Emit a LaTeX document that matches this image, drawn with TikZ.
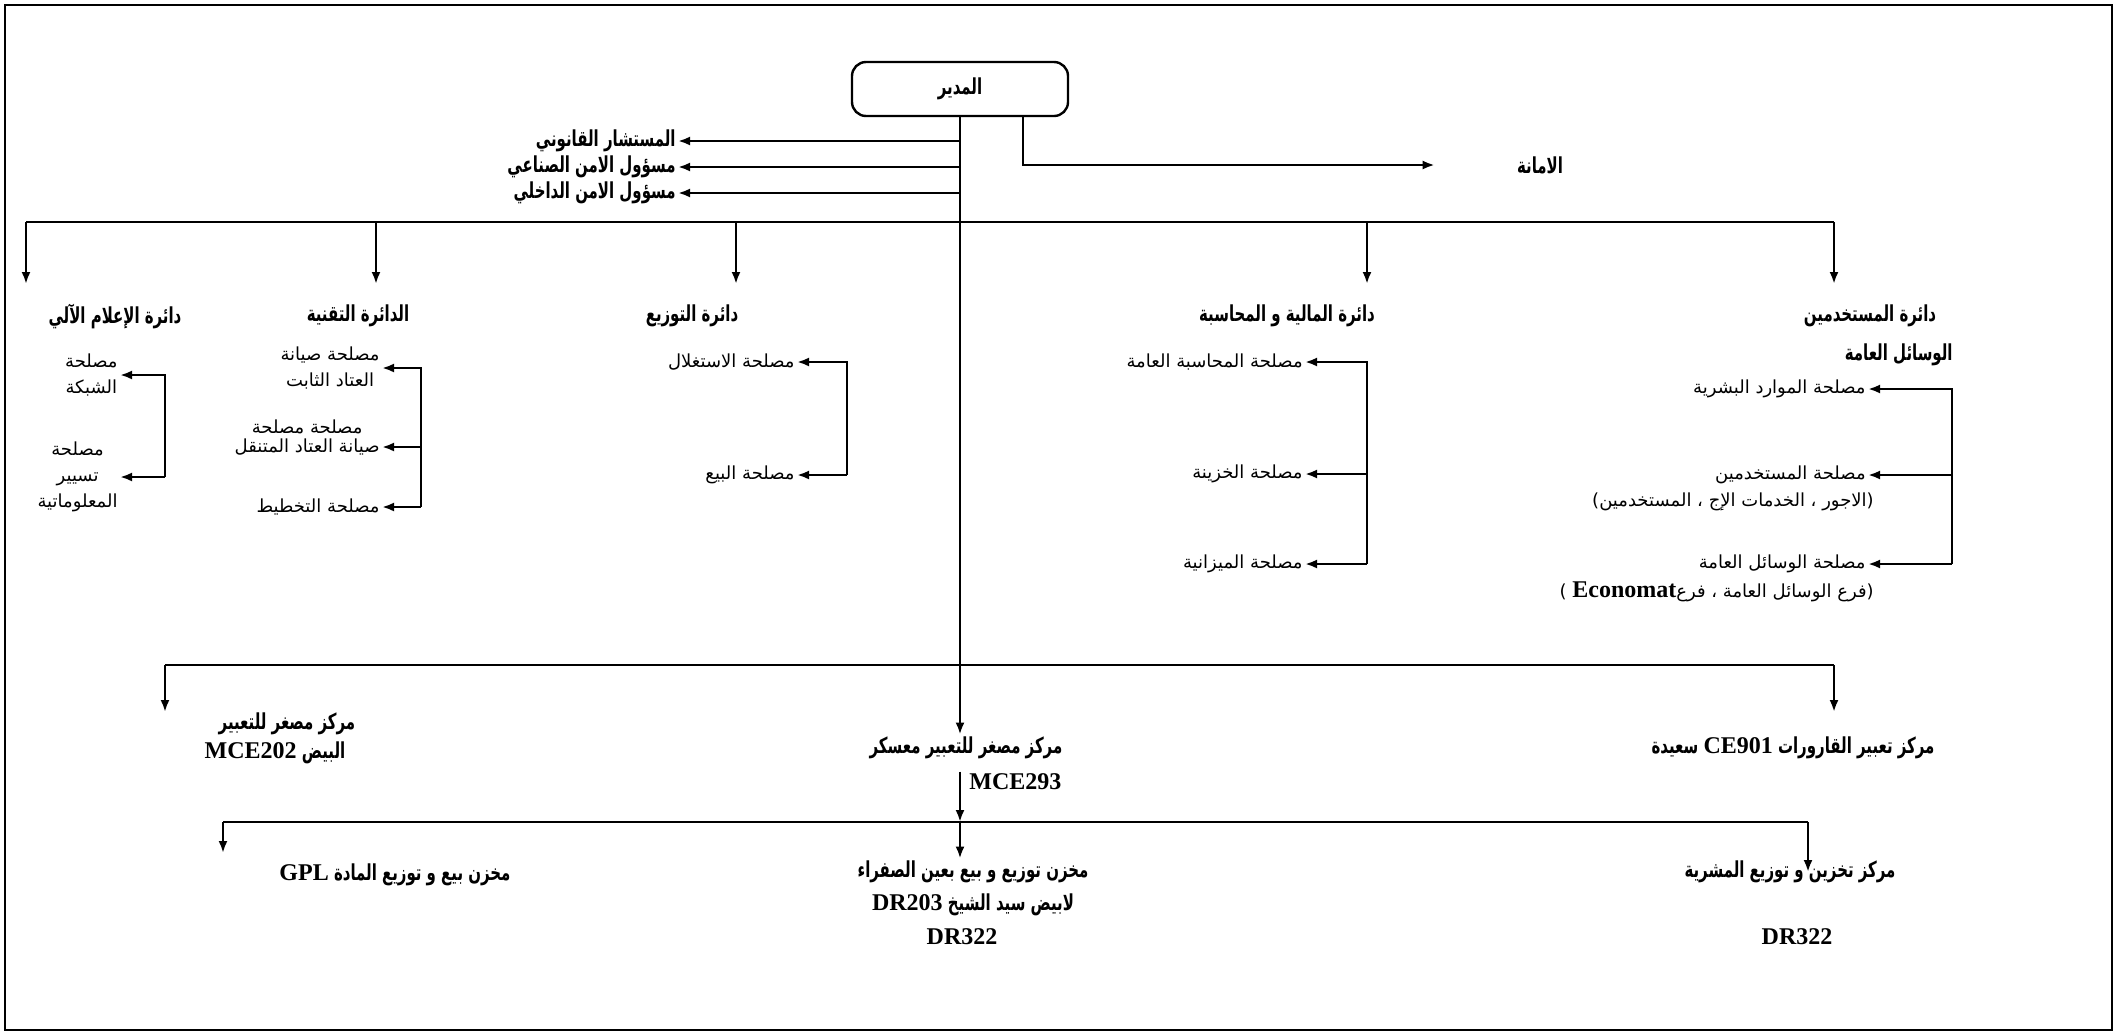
\documentclass[tikz,border=0pt]{standalone}
\usepackage{fontspec}
\usetikzlibrary{positioning,arrows.meta}
\newfontfamily\arabicfont[Script=Arabic, BoldFeatures={FakeStretch=0.68}]{DejaVu Sans}
\newfontfamily\latinfont{Liberation Serif}
\TeXXeTstate=1
\newcommand{\rl}[1]{\beginR#1\endR}
\newcommand{\latn}[1]{\beginL{\latinfont\bfseries\fontsize{12}{14}\selectfont #1}\endL{}}

\tikzset{
	main/.style={black, line width=1.2pt},
	arrow/.style={main, -{Latex[length=6pt,width=4.5pt]}},
	head/.style={font=\arabicfont\bfseries\fontsize{11}{14}\selectfont, inner sep=1pt, align=center},
	item/.style={font=\arabicfont\fontsize{9}{13}\selectfont, inner sep=1pt, align=center}
}

\begin{document}
\begin{tikzpicture}[x=0.5pt,y=-0.5pt]
\useasboundingbox (0,0) rectangle (2118,1034);
\draw [line width=0.8pt] (5,5) rectangle (2112,1030);

\node (boss) at (960,89) [draw, main, rounded corners=7pt, minimum width=108pt, minimum height=27pt, head] {\rl{المدير}};

\node (legal) at (678,141) [anchor=east, head] {\rl{المستشار القانوني}};
\node (indsec) at (678,167) [anchor=east, head] {\rl{مسؤول الامن الصناعي}};
\node (intsec) at (678,193) [anchor=east, head] {\rl{مسؤول الامن الداخلي}};
\node (amana) at (1540,165) [head] {\rl{الامانة}};

\draw [arrow] (boss.south |- legal.east) -- (legal.east);
\draw [arrow] (boss.south |- indsec.east) -- (indsec.east);
\draw [arrow] (boss.south |- intsec.east) -- (intsec.east);
\draw [arrow, shorten >=40pt] ([xshift=31.5pt]boss.south) |- (amana.west);

\coordinate (bus1) at (960,222);
\coordinate (t1) at (26,284);
\coordinate (t2) at (376,284);
\coordinate (t3) at (736,284);
\coordinate (t4) at (1367,284);
\coordinate (t5) at (1834,284);
\draw [main] (t1 |- bus1) -- (t5 |- bus1);
\foreach \t in {t1,t2,t3,t4,t5}
	\draw [arrow] (\t |- bus1) -- (\t);

\node (dinfo) at (115,316) [head] {\rl{دائرة الإعلام الآلي}};
\node (dtech) at (358,316) [head] {\rl{الدائرة التقنية}};
\node (ddist) at (692,316) [head] {\rl{دائرة التوزيع}};
\node (dfin) at (1287,316) [head] {\rl{دائرة المالية و المحاسبة}};
\node (dpers) at (1870,316) [head] {\rl{دائرة المستخدمين}};
\node (dmoy) at (1955,355) [anchor=east, head] {\rl{الوسائل العامة}};

\node (inet) at (120,375) [anchor=east, item] {\rl{مصلحة}\\\rl{الشبكة}};
\node (isys) at (120,477) [anchor=east, item] {\rl{مصلحة}\\\rl{تسيير}\\\rl{المعلوماتية}};
\coordinate (ibr) at (165,0);
\draw [arrow] (ibr |- isys.east) -- (ibr |- inet.east) -- (inet.east);
\draw [arrow] (ibr |- isys.east) -- (isys.east);

\node (tfix) at (382,368) [anchor=east, item] {\rl{مصلحة صيانة}\\\rl{العتاد الثابت}};
\node (tmob) at (382,447) [anchor=east, item] {\rl{صيانة العتاد المتنقل}};
\node (tmob0) [above=0pt of tmob, item] {\rl{مصلحة مصلحة}};
\node (tplan) at (382,507) [anchor=east, item] {\rl{مصلحة التخطيط}};
\coordinate (tbr) at (421,0);
\draw [arrow] (tbr |- tplan.east) -- (tbr |- tfix.east) -- (tfix.east);
\draw [arrow] (tbr |- tmob.east) -- (tmob.east);
\draw [arrow] (tbr |- tplan.east) -- (tplan.east);

\node (sexp) at (797,362) [anchor=east, item] {\rl{مصلحة الاستغلال}};
\node (ssale) at (797,475) [anchor=east, item] {\rl{مصلحة البيع}};
\coordinate (sbr) at (847,0);
\draw [arrow] (sbr |- ssale.east) -- (sbr |- sexp.east) -- (sexp.east);
\draw [arrow] (sbr |- ssale.east) -- (ssale.east);

\node (facc) at (1305,362) [anchor=east, item] {\rl{مصلحة المحاسبة العامة}};
\node (ftre) at (1305,474) [anchor=east, item] {\rl{مصلحة الخزينة}};
\node (fbud) at (1305,564) [anchor=east, item] {\rl{مصلحة الميزانية}};
\coordinate (fbr) at (1367,0);
\draw [arrow] (fbr |- fbud.east) -- (fbr |- facc.east) -- (facc.east);
\draw [arrow] (fbr |- ftre.east) -- (ftre.east);
\draw [arrow] (fbr |- fbud.east) -- (fbud.east);

\node (phr) at (1868,389) [anchor=east, item] {\rl{مصلحة الموارد البشرية}};
\node (pemp) at (1868,475) [anchor=east, item] {\rl{مصلحة المستخدمين}};
\node (pwage) [item, below=2pt of pemp.south east, anchor=north east, xshift=4pt] {\rl{(الاجور ، الخدمات الإج ، المستخدمين)}};
\node (pmoy) at (1868,564) [anchor=east, item] {\rl{مصلحة الوسائل العامة}};
\node (peco) [item, below=2pt of pmoy.south east, anchor=north east, xshift=4pt] {\rl{(فرع الوسائل العامة ، فرع\latn{Economat} )}};
\coordinate (pbr) at (1952,0);
\draw [arrow] (pbr |- pmoy.east) -- (pbr |- phr.east) -- (phr.east);
\draw [arrow] (pbr |- pemp.east) -- (pemp.east);
\draw [arrow] (pbr |- pmoy.east) -- (pmoy.east);

\node (mid1) at (966,748) [head] {\rl{مركز مصغر للتعبير معسكر}};
\node (mid2) at (967,782) [anchor=west, head] {\latn{MCE293}};
\draw [arrow] (boss.south) -- (boss.south |- mid1.north);

\coordinate (bus2) at (960,665);
\coordinate (c1) at (165,712);
\coordinate (c3) at (1834,712);
\draw [main] (c1 |- bus2) -- (c3 |- bus2);
\draw [arrow] (c1 |- bus2) -- (c1);
\draw [arrow] (c3 |- bus2) -- (c3);

\node (west1) at (287,724) [head] {\rl{مركز مصغر للتعبير}};
\node (west2) at (275,753) [head] {\rl{البيض \latn{MCE202}}};
\node (east1) at (1793,748) [head] {\rl{مركز تعبير القارورات \latn{CE901} سعيدة}};

\node (gpl) at (395,875) [head] {\rl{مخزن بيع و توزيع المادة \latn{GPL}}};
\node (gmid1) at (973,872) [head] {\rl{مخزن توزيع و بيع بعين الصفراء}};
\node (gmid2) at (973,905) [head] {\rl{لابيض سيد الشيخ \latn{DR203}}};
\node (gmid3) at (962,937) [head] {\latn{DR322}};
\node (geast1) at (1790,872) [head] {\rl{مركز تخزين و توزيع المشرية}};
\node (geast2) at (1797,937) [head] {\latn{DR322}};

\coordinate (bus3) at (960,822);
\coordinate (d1) at (223,853);
\coordinate (d3) at (1808,872);
\draw [arrow] (boss.south |- mid2.north) -- (bus3);
\draw [arrow] (bus3) -- (bus3 |- gmid1.north);
\draw [main] (d1 |- bus3) -- (d3 |- bus3);
\draw [arrow] (d1 |- bus3) -- (d1);
\draw [arrow] (d3 |- bus3) -- (d3);

\end{tikzpicture}
\end{document}
